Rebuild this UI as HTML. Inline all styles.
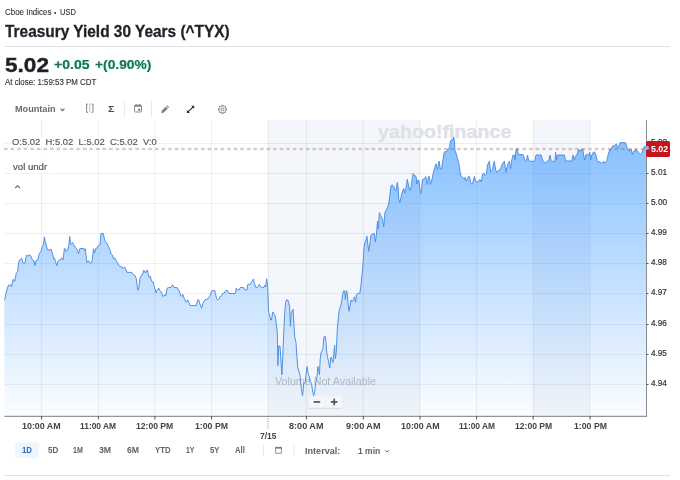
<!DOCTYPE html>
<html lang="en">
<head>
<meta charset="utf-8">
<title>Treasury Yield 30 Years (^TYX)</title>
<style>
html,body{margin:0;padding:0;background:#fff;}
body{width:680px;height:480px;position:relative;overflow:hidden;font-family:"Liberation Sans", sans-serif;}
.t{position:absolute;white-space:pre;line-height:1;margin:0;padding:0;transform-origin:0 0;z-index:3;}
.a{position:absolute;}
svg{position:absolute;left:0;top:0;}
</style>
</head>
<body>
<svg width="680" height="480" viewBox="0 0 680 480">
<rect x="4.5" y="46" width="665.5" height="1" fill="#e0e2e5"/>
<rect x="4.5" y="475" width="665.5" height="1" fill="#dfe1e4"/>
<rect x="268.1" y="120" width="151.9" height="296" fill="#f3f6fa"/>
<rect x="533.2" y="120" width="56.8" height="296" fill="#f3f6fa"/>
<rect x="41.1" y="120" width="1" height="296" fill="#202830" fill-opacity="0.075"/>
<rect x="97.8" y="120" width="1" height="296" fill="#202830" fill-opacity="0.075"/>
<rect x="154.4" y="120" width="1" height="296" fill="#202830" fill-opacity="0.075"/>
<rect x="211" y="120" width="1" height="296" fill="#202830" fill-opacity="0.075"/>
<rect x="267.6" y="120" width="1" height="296" fill="#202830" fill-opacity="0.075"/>
<rect x="305.9" y="120" width="1" height="296" fill="#202830" fill-opacity="0.075"/>
<rect x="362.8" y="120" width="1" height="296" fill="#202830" fill-opacity="0.075"/>
<rect x="419.5" y="120" width="1" height="296" fill="#202830" fill-opacity="0.075"/>
<rect x="476.1" y="120" width="1" height="296" fill="#202830" fill-opacity="0.075"/>
<rect x="532.7" y="120" width="1" height="296" fill="#202830" fill-opacity="0.075"/>
<rect x="589.5" y="120" width="1" height="296" fill="#202830" fill-opacity="0.075"/>
<rect x="5" y="143" width="641.5" height="1" fill="#202830" fill-opacity="0.075"/>
<rect x="5" y="173" width="641.5" height="1" fill="#202830" fill-opacity="0.075"/>
<rect x="5" y="203" width="641.5" height="1" fill="#202830" fill-opacity="0.075"/>
<rect x="5" y="233" width="641.5" height="1" fill="#202830" fill-opacity="0.075"/>
<rect x="5" y="263" width="641.5" height="1" fill="#202830" fill-opacity="0.075"/>
<rect x="5" y="293" width="641.5" height="1" fill="#202830" fill-opacity="0.075"/>
<rect x="5" y="324" width="641.5" height="1" fill="#202830" fill-opacity="0.075"/>
<rect x="5" y="354" width="641.5" height="1" fill="#202830" fill-opacity="0.075"/>
<rect x="5" y="384" width="641.5" height="1" fill="#202830" fill-opacity="0.075"/>
</svg>
<svg width="680" height="480" viewBox="0 0 680 480" style="z-index:2">
<defs><linearGradient id="g" x1="0" y1="120" x2="0" y2="416" gradientUnits="userSpaceOnUse"><stop offset="0" stop-color="#007aff" stop-opacity="0.503"/><stop offset="1" stop-color="#007aff" stop-opacity="0.013"/></linearGradient></defs>
<path d="M4.3,416 L4.3,300 L5,298.5 L6,293 L6.88,290 L8.5,285 L9.38,285.62 L10.25,284.75 L11.5,286.88 L13.12,279.38 L14.75,281.25 L16.25,273.12 L17.5,271.88 L19,260.62 L20.62,259.75 L21.62,258.12 L23.12,263.12 L25,263.12 L26.5,255 L27.75,256.25 L29.75,254.75 L31,256.25 L32.25,259.75 L34,261 L35,265.62 L36,260.62 L37.75,260 L39,254.38 L41,251.25 L42.5,245.62 L43.5,245 L44.38,236.88 L45.25,241.88 L46.25,245 L47.5,250 L48.5,249 L49.38,250.62 L51,249 L52.25,253.12 L54,259.38 L54.75,258.5 L55.25,261.25 L56.88,265.62 L57.75,261.25 L58.75,260.38 L60.62,259.75 L61.5,257.75 L63.12,259.75 L64.38,248.75 L65.25,248.75 L66.25,251.25 L67.5,250.62 L68.75,245.62 L69.75,236.5 L70.62,243.75 L71.5,244.38 L72.5,242.5 L73.75,244.75 L75.62,247.5 L77.25,250 L78.5,253.75 L79.75,248.75 L80,248.5 L83.75,248.5 L84.5,250.62 L85.25,248.75 L86.88,262.5 L88.5,260.62 L89.38,262.5 L91,263.12 L92.25,260 L93.5,248.75 L94.5,253.12 L95.62,248.5 L96.88,248.12 L98.5,245.25 L100,245 L101,233.75 L103.12,233.5 L104,236.88 L105,241.25 L106.5,242.5 L108.12,245.62 L109.75,249.38 L111,253.75 L112.5,255 L113.5,258.75 L114.38,257.75 L116.25,260.62 L117.5,263.12 L119.38,266 L121.88,266.88 L123.12,268.75 L124,267.5 L125,267.25 L125.62,268.75 L126.88,272.25 L131.88,272.5 L133.12,274.38 L135,275.62 L136.25,278.75 L136.5,280 L137.25,286.88 L138.12,290.25 L139,286.25 L140,278.12 L141,275.62 L142.5,275 L143.75,270 L144.75,272.25 L146.25,272.25 L147.25,269.75 L148.5,275 L149.38,277.5 L150.25,276.25 L151.5,281.25 L153.12,281.88 L154.38,286.88 L156,292.75 L156.88,290.62 L158.75,288.12 L160,290.62 L161.25,291.88 L162.75,296.25 L164,296 L164.75,294.75 L165.62,296 L167.25,288.12 L168.75,287.5 L171,287.5 L172.5,284.75 L173.75,287.25 L177.25,287.75 L179.38,291.25 L181,296.25 L181.88,296.25 L182.75,294.38 L184.38,298.75 L186.25,302.25 L187.75,299.75 L188.75,302.5 L190,305.62 L196.25,305.62 L197.75,299.75 L198.75,300 L200.25,305 L201.5,308.12 L203.12,303.12 L205,299.75 L208.12,298.75 L210,295.62 L211.88,290.62 L214.75,290.62 L215.62,293.75 L216.5,298.75 L217.5,300 L218.75,299.38 L219.75,296.88 L221.25,296.25 L222.5,293.5 L224.38,293.12 L225.62,290.62 L227.5,290.62 L229,293.5 L235.25,293.5 L236.25,288.12 L237.25,290 L239,290 L240.25,287.5 L243.5,287.5 L244.75,290 L246.88,290 L247.88,284.38 L250,284.38 L251.5,281.88 L253.5,279 L254.38,283.12 L255.62,287.25 L257.5,287.5 L259.38,284.38 L260.62,286.88 L262.5,287.5 L264,287.25 L265,285 L265.62,286.88 L266.62,278.75 L267.5,283.75 L268.1,297.5 L268.5,312.5 L269.4,313.75 L270.6,320 L271.5,320 L272.75,311.9 L274,313.75 L275.25,316.25 L276.25,323.75 L277.25,331.25 L277.9,365.6 L278.75,346 L280,346 L281,361 L281.9,374.75 L282.75,357.5 L283.75,331.25 L284.75,312.5 L285.6,302.5 L286.5,299.75 L287.75,300 L288.75,303 L289.6,306.25 L290.4,326.25 L291.25,312.5 L293.1,309.4 L293.75,321 L294.75,337.5 L296,342.5 L296.9,356.25 L297.75,367.5 L299.4,372.5 L300.25,377.5 L301.25,387.5 L302.5,396 L303.75,383.75 L305.25,381.9 L306.25,372.5 L307.1,366.5 L308.1,373.75 L309,375.6 L310.25,381.25 L311.5,383.75 L312.5,390 L313.5,395.6 L314.4,393.75 L315.6,383.75 L316.9,377.5 L317.9,366.5 L318.5,368.75 L319.4,374.75 L320.25,358.75 L321,353 L322.25,350.6 L323.1,347.5 L323.75,338 L324.4,336.25 L325.25,336.25 L326.25,345 L326.5,351 L327.5,357 L328.75,362.5 L329.75,368 L330.6,358.75 L331.25,357 L332.25,361.25 L333.1,362.5 L334,351 L334.6,345 L335.4,358.75 L336.25,352.5 L337.25,330 L338.12,320 L339.38,309.38 L340.62,306.25 L341.88,300 L343.12,292.5 L344,290.62 L344.75,291.88 L345.38,299.38 L346.25,290.62 L347.12,292.5 L348.12,303.75 L349,311.25 L350,305.62 L351,300 L352.25,301.5 L353.5,299.38 L354.38,296.88 L355.62,302.25 L356.5,294.38 L358.12,293.5 L359.75,293.12 L360.62,288.75 L361.5,280 L362.5,270 L363.12,262.5 L364,247.5 L365,242.5 L366,240 L366.88,236.25 L367.75,243.75 L368.75,251.25 L370,242.5 L371,235 L372.5,233.75 L374.4,233.75 L375.3,242 L376.4,235 L377.5,221.25 L378.38,228.75 L379.38,212.5 L380.62,215.62 L382.5,218.75 L383.75,226.88 L385,212.5 L386.88,208.75 L388.5,205 L389.75,196.25 L391,185.62 L392.25,185 L393.75,186.25 L394.75,190 L396,190.62 L397.25,182.5 L398.12,187.5 L398.75,198.75 L399.75,202.75 L401.25,196.25 L402.5,191.25 L403.75,188.5 L404.75,193.12 L406,188.75 L407.25,179.38 L408.5,185 L409.75,190.62 L411,187.5 L412.25,178.75 L413.12,173.5 L414.38,175.62 L416,176.25 L416.88,184 L418.12,179.75 L419,181.25 L420,190 L420.75,193.75 L421.5,190 L422.5,179.38 L424.38,178.75 L425.62,176.5 L426.5,180 L427.25,184.38 L428.5,176.25 L429.38,176.5 L430.38,184.38 L431.88,180 L433.12,173.75 L434.75,167.5 L436,163.75 L437.5,169.75 L439,161 L440.25,168.75 L441.5,169.75 L442.5,162.5 L443.75,155 L444.38,151.88 L446.88,151.5 L448.12,148.75 L449.38,147.5 L450.62,140.62 L451.88,139.38 L452.75,140 L453.75,136.88 L454.38,141.25 L455,150.62 L456.25,153.75 L457.25,158.12 L458.5,161.88 L459.38,166.25 L460.25,172.5 L461,176 L462.5,177.25 L463.75,178.12 L464.75,180 L465.25,177.25 L466.5,181.25 L467.5,179.38 L468.5,176.25 L469.75,176.88 L470.62,182.5 L471.88,184.38 L473.12,181.25 L474.38,176.5 L475.62,181.25 L476,181.88 L478.12,181.88 L479.75,179.38 L481.25,181.88 L482.75,173.75 L484,173.12 L485.25,175.62 L486.5,174.38 L487.5,165 L489.38,161.25 L490.62,171.88 L492.5,170 L493.5,163.75 L494.38,161.25 L495.62,170 L496.88,172.5 L498.75,170 L500.62,169.38 L501.88,165 L503.12,162.5 L504.38,161.25 L505.25,167.5 L506,172.5 L507.25,166.25 L508.5,162.5 L509.38,161.25 L510.62,168.75 L511.5,161.25 L513.12,155 L514.38,155 L515.25,160 L516,149.38 L517.5,148.75 L518.12,154.38 L523.12,154.75 L524.38,158.75 L525.25,161.25 L526.5,160.62 L527.5,155 L528.5,160 L529.75,161.25 L534.75,161.25 L536,155 L541.25,155 L542.5,160 L543.75,161.88 L545,163.12 L546.25,161.88 L547.5,161.25 L549,160 L550,155 L551,160.62 L551.88,161.25 L555,161.25 L555.62,152.25 L556.5,160 L557.5,155 L564.38,155 L565.62,161 L571.88,161 L573.12,155 L574.38,160 L575.62,156.25 L576.88,154.75 L578.5,149.38 L580,151.25 L581.25,149.38 L582.75,149 L583.75,156.25 L584.75,160 L585.62,155 L588.75,154.75 L589.75,152.25 L590.62,160 L591.88,155 L593.12,152.5 L594.38,151.88 L596,155 L597.25,160.62 L598.5,163.12 L599.38,161.25 L601.25,163.12 L602.5,163.12 L603.5,161.25 L605,163.12 L606.88,160.62 L608.12,155 L609.75,149.38 L610.62,150.62 L611.5,148.12 L612.5,146 L615,145.62 L616.25,143.75 L617.5,146.25 L618.5,148.12 L619.75,143.12 L621,142.5 L625.62,142.75 L626.88,147.5 L627.75,149.38 L629,151.25 L630,149.38 L631.25,149 L632.25,154.38 L633.5,151.25 L635,151.25 L636,149 L636.88,151.25 L638.12,151.88 L639.38,153.12 L640.62,154.38 L641.88,153.12 L643.12,149.38 L644.38,146.5 L645.62,146.25 L646.62,148.12 L646.62,416 Z" fill="url(#g)"/>
<path d="M4.3,300 L5,298.5 L6,293 L6.88,290 L8.5,285 L9.38,285.62 L10.25,284.75 L11.5,286.88 L13.12,279.38 L14.75,281.25 L16.25,273.12 L17.5,271.88 L19,260.62 L20.62,259.75 L21.62,258.12 L23.12,263.12 L25,263.12 L26.5,255 L27.75,256.25 L29.75,254.75 L31,256.25 L32.25,259.75 L34,261 L35,265.62 L36,260.62 L37.75,260 L39,254.38 L41,251.25 L42.5,245.62 L43.5,245 L44.38,236.88 L45.25,241.88 L46.25,245 L47.5,250 L48.5,249 L49.38,250.62 L51,249 L52.25,253.12 L54,259.38 L54.75,258.5 L55.25,261.25 L56.88,265.62 L57.75,261.25 L58.75,260.38 L60.62,259.75 L61.5,257.75 L63.12,259.75 L64.38,248.75 L65.25,248.75 L66.25,251.25 L67.5,250.62 L68.75,245.62 L69.75,236.5 L70.62,243.75 L71.5,244.38 L72.5,242.5 L73.75,244.75 L75.62,247.5 L77.25,250 L78.5,253.75 L79.75,248.75 L80,248.5 L83.75,248.5 L84.5,250.62 L85.25,248.75 L86.88,262.5 L88.5,260.62 L89.38,262.5 L91,263.12 L92.25,260 L93.5,248.75 L94.5,253.12 L95.62,248.5 L96.88,248.12 L98.5,245.25 L100,245 L101,233.75 L103.12,233.5 L104,236.88 L105,241.25 L106.5,242.5 L108.12,245.62 L109.75,249.38 L111,253.75 L112.5,255 L113.5,258.75 L114.38,257.75 L116.25,260.62 L117.5,263.12 L119.38,266 L121.88,266.88 L123.12,268.75 L124,267.5 L125,267.25 L125.62,268.75 L126.88,272.25 L131.88,272.5 L133.12,274.38 L135,275.62 L136.25,278.75 L136.5,280 L137.25,286.88 L138.12,290.25 L139,286.25 L140,278.12 L141,275.62 L142.5,275 L143.75,270 L144.75,272.25 L146.25,272.25 L147.25,269.75 L148.5,275 L149.38,277.5 L150.25,276.25 L151.5,281.25 L153.12,281.88 L154.38,286.88 L156,292.75 L156.88,290.62 L158.75,288.12 L160,290.62 L161.25,291.88 L162.75,296.25 L164,296 L164.75,294.75 L165.62,296 L167.25,288.12 L168.75,287.5 L171,287.5 L172.5,284.75 L173.75,287.25 L177.25,287.75 L179.38,291.25 L181,296.25 L181.88,296.25 L182.75,294.38 L184.38,298.75 L186.25,302.25 L187.75,299.75 L188.75,302.5 L190,305.62 L196.25,305.62 L197.75,299.75 L198.75,300 L200.25,305 L201.5,308.12 L203.12,303.12 L205,299.75 L208.12,298.75 L210,295.62 L211.88,290.62 L214.75,290.62 L215.62,293.75 L216.5,298.75 L217.5,300 L218.75,299.38 L219.75,296.88 L221.25,296.25 L222.5,293.5 L224.38,293.12 L225.62,290.62 L227.5,290.62 L229,293.5 L235.25,293.5 L236.25,288.12 L237.25,290 L239,290 L240.25,287.5 L243.5,287.5 L244.75,290 L246.88,290 L247.88,284.38 L250,284.38 L251.5,281.88 L253.5,279 L254.38,283.12 L255.62,287.25 L257.5,287.5 L259.38,284.38 L260.62,286.88 L262.5,287.5 L264,287.25 L265,285 L265.62,286.88 L266.62,278.75 L267.5,283.75 L268.1,297.5 L268.5,312.5 L269.4,313.75 L270.6,320 L271.5,320 L272.75,311.9 L274,313.75 L275.25,316.25 L276.25,323.75 L277.25,331.25 L277.9,365.6 L278.75,346 L280,346 L281,361 L281.9,374.75 L282.75,357.5 L283.75,331.25 L284.75,312.5 L285.6,302.5 L286.5,299.75 L287.75,300 L288.75,303 L289.6,306.25 L290.4,326.25 L291.25,312.5 L293.1,309.4 L293.75,321 L294.75,337.5 L296,342.5 L296.9,356.25 L297.75,367.5 L299.4,372.5 L300.25,377.5 L301.25,387.5 L302.5,396 L303.75,383.75 L305.25,381.9 L306.25,372.5 L307.1,366.5 L308.1,373.75 L309,375.6 L310.25,381.25 L311.5,383.75 L312.5,390 L313.5,395.6 L314.4,393.75 L315.6,383.75 L316.9,377.5 L317.9,366.5 L318.5,368.75 L319.4,374.75 L320.25,358.75 L321,353 L322.25,350.6 L323.1,347.5 L323.75,338 L324.4,336.25 L325.25,336.25 L326.25,345 L326.5,351 L327.5,357 L328.75,362.5 L329.75,368 L330.6,358.75 L331.25,357 L332.25,361.25 L333.1,362.5 L334,351 L334.6,345 L335.4,358.75 L336.25,352.5 L337.25,330 L338.12,320 L339.38,309.38 L340.62,306.25 L341.88,300 L343.12,292.5 L344,290.62 L344.75,291.88 L345.38,299.38 L346.25,290.62 L347.12,292.5 L348.12,303.75 L349,311.25 L350,305.62 L351,300 L352.25,301.5 L353.5,299.38 L354.38,296.88 L355.62,302.25 L356.5,294.38 L358.12,293.5 L359.75,293.12 L360.62,288.75 L361.5,280 L362.5,270 L363.12,262.5 L364,247.5 L365,242.5 L366,240 L366.88,236.25 L367.75,243.75 L368.75,251.25 L370,242.5 L371,235 L372.5,233.75 L374.4,233.75 L375.3,242 L376.4,235 L377.5,221.25 L378.38,228.75 L379.38,212.5 L380.62,215.62 L382.5,218.75 L383.75,226.88 L385,212.5 L386.88,208.75 L388.5,205 L389.75,196.25 L391,185.62 L392.25,185 L393.75,186.25 L394.75,190 L396,190.62 L397.25,182.5 L398.12,187.5 L398.75,198.75 L399.75,202.75 L401.25,196.25 L402.5,191.25 L403.75,188.5 L404.75,193.12 L406,188.75 L407.25,179.38 L408.5,185 L409.75,190.62 L411,187.5 L412.25,178.75 L413.12,173.5 L414.38,175.62 L416,176.25 L416.88,184 L418.12,179.75 L419,181.25 L420,190 L420.75,193.75 L421.5,190 L422.5,179.38 L424.38,178.75 L425.62,176.5 L426.5,180 L427.25,184.38 L428.5,176.25 L429.38,176.5 L430.38,184.38 L431.88,180 L433.12,173.75 L434.75,167.5 L436,163.75 L437.5,169.75 L439,161 L440.25,168.75 L441.5,169.75 L442.5,162.5 L443.75,155 L444.38,151.88 L446.88,151.5 L448.12,148.75 L449.38,147.5 L450.62,140.62 L451.88,139.38 L452.75,140 L453.75,136.88 L454.38,141.25 L455,150.62 L456.25,153.75 L457.25,158.12 L458.5,161.88 L459.38,166.25 L460.25,172.5 L461,176 L462.5,177.25 L463.75,178.12 L464.75,180 L465.25,177.25 L466.5,181.25 L467.5,179.38 L468.5,176.25 L469.75,176.88 L470.62,182.5 L471.88,184.38 L473.12,181.25 L474.38,176.5 L475.62,181.25 L476,181.88 L478.12,181.88 L479.75,179.38 L481.25,181.88 L482.75,173.75 L484,173.12 L485.25,175.62 L486.5,174.38 L487.5,165 L489.38,161.25 L490.62,171.88 L492.5,170 L493.5,163.75 L494.38,161.25 L495.62,170 L496.88,172.5 L498.75,170 L500.62,169.38 L501.88,165 L503.12,162.5 L504.38,161.25 L505.25,167.5 L506,172.5 L507.25,166.25 L508.5,162.5 L509.38,161.25 L510.62,168.75 L511.5,161.25 L513.12,155 L514.38,155 L515.25,160 L516,149.38 L517.5,148.75 L518.12,154.38 L523.12,154.75 L524.38,158.75 L525.25,161.25 L526.5,160.62 L527.5,155 L528.5,160 L529.75,161.25 L534.75,161.25 L536,155 L541.25,155 L542.5,160 L543.75,161.88 L545,163.12 L546.25,161.88 L547.5,161.25 L549,160 L550,155 L551,160.62 L551.88,161.25 L555,161.25 L555.62,152.25 L556.5,160 L557.5,155 L564.38,155 L565.62,161 L571.88,161 L573.12,155 L574.38,160 L575.62,156.25 L576.88,154.75 L578.5,149.38 L580,151.25 L581.25,149.38 L582.75,149 L583.75,156.25 L584.75,160 L585.62,155 L588.75,154.75 L589.75,152.25 L590.62,160 L591.88,155 L593.12,152.5 L594.38,151.88 L596,155 L597.25,160.62 L598.5,163.12 L599.38,161.25 L601.25,163.12 L602.5,163.12 L603.5,161.25 L605,163.12 L606.88,160.62 L608.12,155 L609.75,149.38 L610.62,150.62 L611.5,148.12 L612.5,146 L615,145.62 L616.25,143.75 L617.5,146.25 L618.5,148.12 L619.75,143.12 L621,142.5 L625.62,142.75 L626.88,147.5 L627.75,149.38 L629,151.25 L630,149.38 L631.25,149 L632.25,154.38 L633.5,151.25 L635,151.25 L636,149 L636.88,151.25 L638.12,151.88 L639.38,153.12 L640.62,154.38 L641.88,153.12 L643.12,149.38 L644.38,146.5 L645.62,146.25 L646.62,148.12" fill="none" stroke="#4f90e4" stroke-width="1" stroke-linejoin="round"/>
<rect x="10" y="137" width="148.5" height="9.6" fill="#fff" fill-opacity="0.92"/>
<rect x="10" y="150.5" width="45" height="22.9" fill="#fff" fill-opacity="0.9"/>
<line x1="3.75" y1="148.9" x2="646.5" y2="148.9" stroke="#e8564e" stroke-opacity="0.13" stroke-width="2.6" stroke-dasharray="4.2 2.363"/>
<line x1="4.25" y1="148.9" x2="646.5" y2="148.9" stroke="#6a5a5e" stroke-opacity="0.3" stroke-width="1.5" stroke-dasharray="3.2 3.363"/>
<rect x="4.4" y="415.8" width="642.6" height="1" fill="#7c7c7c"/>
<rect x="646" y="120" width="1" height="296.8" fill="#878b92"/>
<rect x="41.1" y="416" width="1" height="3.5" fill="#555"/>
<rect x="97.8" y="416" width="1" height="3.5" fill="#555"/>
<rect x="154.4" y="416" width="1" height="3.5" fill="#555"/>
<rect x="211" y="416" width="1" height="3.5" fill="#555"/>
<line x1="268.1" y1="416" x2="268.1" y2="429" stroke="#777" stroke-width="1" stroke-dasharray="1 1.5"/>
<rect x="305.9" y="416" width="1" height="3.5" fill="#555"/>
<rect x="362.8" y="416" width="1" height="3.5" fill="#555"/>
<rect x="419.5" y="416" width="1" height="3.5" fill="#555"/>
<rect x="476.1" y="416" width="1" height="3.5" fill="#555"/>
<rect x="532.7" y="416" width="1" height="3.5" fill="#555"/>
<rect x="589.5" y="416" width="1" height="3.5" fill="#555"/>
<rect x="646.5" y="143" width="2" height="1" fill="#555"/>
<rect x="646.5" y="173" width="2" height="1" fill="#555"/>
<rect x="646.5" y="203" width="2" height="1" fill="#555"/>
<rect x="646.5" y="233" width="2" height="1" fill="#555"/>
<rect x="646.5" y="263" width="2" height="1" fill="#555"/>
<rect x="646.5" y="293" width="2" height="1" fill="#555"/>
<rect x="646.5" y="324" width="2" height="1" fill="#555"/>
<rect x="646.5" y="354" width="2" height="1" fill="#555"/>
<rect x="646.5" y="384" width="2" height="1" fill="#555"/>
<rect x="308.6" y="396.6" width="33.8" height="11.4" rx="1" fill="#000" fill-opacity="0.1" transform="translate(0,0.7)"/>
<rect x="308.6" y="396.4" width="33.8" height="11.4" rx="1" fill="#f5f8fb"/>
<rect x="325.3" y="396.8" width="0.8" height="10.8" fill="#e4e7ea"/>
<rect x="313.6" y="401.1" width="6.6" height="1.7" fill="#555"/>
<rect x="330.9" y="401.1" width="6.6" height="1.7" fill="#555"/>
<rect x="333.35" y="398.65" width="1.7" height="6.6" fill="#555"/>
<path d="M60.6,108.6 L62.5,110.6 L64.4,108.6" fill="none" stroke="#5b636a" stroke-width="1.1"/>
<path d="M88.1,104.1 H86.6 V112.3 H88.1 M91.5,104.1 H93 V112.3 H91.5" fill="none" stroke="#767b82" stroke-width="0.9"/>
<line x1="89.8" y1="103.6" x2="89.8" y2="112.8" stroke="#767b82" stroke-width="0.9" stroke-dasharray="1 0.8"/>
<rect x="123.9" y="101.2" width="1" height="15.8" fill="#e6e8ea"/>
<rect x="151" y="101.2" width="1" height="15.8" fill="#e6e8ea"/>
<rect x="134.5" y="105.2" width="7" height="6.8" rx="1" fill="none" stroke="#767b82" stroke-width="0.85"/>
<rect x="134.5" y="105.2" width="7" height="1.5" fill="#767b82"/>
<rect x="135.7" y="104" width="1" height="1.6" fill="#767b82"/><rect x="139.3" y="104" width="1" height="1.6" fill="#767b82"/>
<rect x="138.2" y="108.8" width="1.9" height="1.9" rx="0.4" fill="#666a70"/>
<path d="M161.2,113.3 L161.9,110.6 L165.9,106.6 L167.9,108.6 L163.9,112.6 Z M166.5,106 L167.2,105.3 L169.2,107.3 L168.5,108 Z" fill="#7d8188"/>
<path d="M188,111.8 L193.2,106.8" stroke="#22262a" stroke-width="1.1" fill="none"/>
<path d="M186.9,112.9 V109.9 L189.9,112.9 Z M194.2,105.8 V108.8 L191.2,105.8 Z" fill="#22262a"/>
<path d="M221.78,105.26 L223.22,105.26 L223.24,106.34 L224.15,106.71 L224.92,105.96 L225.94,106.98 L225.19,107.75 L225.56,108.66 L226.64,108.68 L226.64,110.12 L225.56,110.14 L225.19,111.05 L225.94,111.82 L224.92,112.84 L224.15,112.09 L223.24,112.46 L223.22,113.54 L221.78,113.54 L221.76,112.46 L220.85,112.09 L220.08,112.84 L219.06,111.82 L219.81,111.05 L219.44,110.14 L218.36,110.12 L218.36,108.68 L219.44,108.66 L219.81,107.75 L219.06,106.98 L220.08,105.96 L220.85,106.71 L221.76,106.34 Z" fill="none" stroke="#767b82" stroke-width="0.9" stroke-linejoin="round"/>
<circle cx="222.5" cy="109.4" r="1.4" fill="none" stroke="#767b82" stroke-width="0.9"/>
<path d="M15.2,188 L17.5,185.7 L19.8,188" fill="none" stroke="#666" stroke-width="1.15"/>
<rect x="15" y="442.5" width="23.8" height="15.7" rx="2" fill="#edf5fe"/>
<rect x="263" y="444.4" width="1" height="11.4" fill="#e6e8ea"/>
<rect x="293.5" y="444.4" width="1" height="11.4" fill="#e6e8ea"/>
<rect x="275.6" y="447.6" width="5.8" height="5.7" rx="0.3" fill="none" stroke="#767b82" stroke-width="0.85"/>
<rect x="275.2" y="447.1" width="6.6" height="1.5" fill="#767b82"/>
<rect x="276.4" y="446.4" width="0.9" height="1" fill="#767b82"/><rect x="279.7" y="446.4" width="0.9" height="1" fill="#767b82"/>
<path d="M385.3,450.2 L387.2,452.1 L389.1,450.2" fill="none" stroke="#5b636a" stroke-width="1"/>
</svg>
<div class="t" id="sub" style="left:4.82px;top:9.00px;font-size:8.25px;font-weight:400;color:#30363c;transform:scaleX(0.9630);-webkit-text-stroke:0.12px #30363c;">Cboe Indices</div>
<div class="t" id="subdot" style="left:54.04px;top:10.00px;font-size:6.50px;font-weight:400;color:#30363c;transform:scaleX(1.0286);">•</div>
<div class="t" id="subusd" style="left:59.55px;top:9.00px;font-size:8.25px;font-weight:400;color:#30363c;transform:scaleX(0.9091);-webkit-text-stroke:0.12px #30363c;">USD</div>
<div class="t" id="title" style="left:4.76px;top:23.00px;font-size:16.40px;font-weight:700;color:#1d2228;transform:scaleX(0.9405);-webkit-text-stroke:0.3px #1d2228;">Treasury Yield 30 Years (^TYX)</div>
<div class="t" id="price" style="left:4.68px;top:55.00px;font-size:20.60px;font-weight:700;color:#1d2228;transform:scaleX(1.0987);-webkit-text-stroke:0.4px #1d2228;">5.02</div>
<div class="t" id="chg" style="left:54.12px;top:59.00px;font-size:12.00px;font-weight:700;color:#17705a;transform:scaleX(1.1695);-webkit-text-stroke:0.1px #17705a;text-shadow:0 0 2px rgba(110,240,205,0.55);">+0.05</div>
<div class="t" id="pct" style="left:95.02px;top:59.00px;font-size:12.00px;font-weight:700;color:#17705a;transform:scaleX(1.1500);-webkit-text-stroke:0.1px #17705a;text-shadow:0 0 2px rgba(110,240,205,0.55);">+(0.90%)</div>
<div class="t" id="close" style="left:5.20px;top:78.00px;font-size:8.30px;font-weight:400;color:#30363c;transform:scaleX(0.9514);-webkit-text-stroke:0.15px #30363c;">At close: 1:59:53 PM CDT</div>
<div class="t" id="mtn" style="left:15.08px;top:105.00px;font-size:8.80px;font-weight:700;color:#626a72;transform:scaleX(1.0368);">Mountain</div>
<div class="t" id="sigma" style="left:107.62px;top:105.00px;font-size:9.20px;font-weight:700;color:#4a4f55;transform:scaleX(1.1579);">Σ</div>
<div class="t" id="ohlc" style="left:12.02px;top:137.00px;font-size:9.75px;font-weight:400;color:#555;transform:scaleX(0.9671);-webkit-text-stroke:0.15px #555;">O:5.02  H:5.02  L:5.02  C:5.02  V:0</div>
<div class="t" id="vol" style="left:12.50px;top:162.00px;font-size:9.90px;font-weight:400;color:#555;transform:scaleX(0.9714);-webkit-text-stroke:0.2px #555;">vol undr</div>
<div class="t" id="wm" style="left:377.83px;top:123.00px;font-size:18.20px;font-weight:700;color:#dee1e6;transform:scaleX(1.0816);z-index:1;-webkit-text-stroke:0.5px #dee1e6;">yahoo!finance</div>
<div class="t" id="vna" style="left:275.00px;top:377.00px;font-size:10.30px;font-weight:400;color:rgba(125,135,145,0.52);transform:scaleX(1.0398);">Volume Not Available</div>
<div class="t" id="y0" style="left:650.81px;top:138.00px;font-size:8.40px;font-weight:400;color:#333;transform:scaleX(0.9871);z-index:3;-webkit-text-stroke:0.2px #333;">5.02</div>
<div class="t" id="y1" style="left:650.81px;top:168.00px;font-size:8.40px;font-weight:400;color:#333;transform:scaleX(0.9871);z-index:3;-webkit-text-stroke:0.2px #333;">5.01</div>
<div class="t" id="y2" style="left:650.81px;top:198.00px;font-size:8.40px;font-weight:400;color:#333;transform:scaleX(0.9871);z-index:3;-webkit-text-stroke:0.2px #333;">5.00</div>
<div class="t" id="y3" style="left:651.06px;top:228.00px;font-size:8.40px;font-weight:400;color:#333;transform:scaleX(0.9714);z-index:3;-webkit-text-stroke:0.2px #333;">4.99</div>
<div class="t" id="y4" style="left:651.06px;top:258.00px;font-size:8.40px;font-weight:400;color:#333;transform:scaleX(0.9714);z-index:3;-webkit-text-stroke:0.2px #333;">4.98</div>
<div class="t" id="y5" style="left:651.06px;top:288.00px;font-size:8.40px;font-weight:400;color:#333;transform:scaleX(0.9714);z-index:3;-webkit-text-stroke:0.2px #333;">4.97</div>
<div class="t" id="y6" style="left:651.06px;top:319.00px;font-size:8.40px;font-weight:400;color:#333;transform:scaleX(0.9714);z-index:3;-webkit-text-stroke:0.2px #333;">4.96</div>
<div class="t" id="y7" style="left:651.06px;top:349.00px;font-size:8.40px;font-weight:400;color:#333;transform:scaleX(0.9714);z-index:3;-webkit-text-stroke:0.2px #333;">4.95</div>
<div class="t" id="y8" style="left:651.06px;top:379.00px;font-size:8.40px;font-weight:400;color:#333;transform:scaleX(0.9714);z-index:3;-webkit-text-stroke:0.2px #333;">4.94</div>
<div class="t" id="cur" style="left:650.66px;top:145.00px;font-size:9.20px;font-weight:700;color:#fff;transform:scaleX(0.9565);z-index:6;">5.02</div>
<div class="t" id="x0" style="left:22.25px;top:422.00px;font-size:9.30px;font-weight:700;color:#3f4448;transform:scaleX(0.9557);">10:00 AM</div>
<div class="t" id="x1" style="left:80.35px;top:422.00px;font-size:9.30px;font-weight:700;color:#3f4448;transform:scaleX(0.9032);">11:00 AM</div>
<div class="t" id="x2" style="left:136.34px;top:422.00px;font-size:9.30px;font-weight:700;color:#3f4448;transform:scaleX(0.9223);">12:00 PM</div>
<div class="t" id="x3" style="left:195.08px;top:422.00px;font-size:9.30px;font-weight:700;color:#3f4448;transform:scaleX(0.9382);">1:00 PM</div>
<div class="t" id="x5" style="left:289.31px;top:422.00px;font-size:9.30px;font-weight:700;color:#3f4448;transform:scaleX(0.9768);">8:00 AM</div>
<div class="t" id="x6" style="left:346.21px;top:422.00px;font-size:9.30px;font-weight:700;color:#3f4448;transform:scaleX(0.9768);">9:00 AM</div>
<div class="t" id="x7" style="left:400.65px;top:422.00px;font-size:9.30px;font-weight:700;color:#3f4448;transform:scaleX(0.9557);">10:00 AM</div>
<div class="t" id="x8" style="left:458.65px;top:422.00px;font-size:9.30px;font-weight:700;color:#3f4448;transform:scaleX(0.9032);">11:00 AM</div>
<div class="t" id="x9" style="left:514.64px;top:422.00px;font-size:9.30px;font-weight:700;color:#3f4448;transform:scaleX(0.9223);">12:00 PM</div>
<div class="t" id="x10" style="left:573.58px;top:422.00px;font-size:9.30px;font-weight:700;color:#3f4448;transform:scaleX(0.9382);">1:00 PM</div>
<div class="t" id="d715" style="left:260.37px;top:432.00px;font-size:9.30px;font-weight:700;color:#3f4448;transform:scaleX(0.9086);">7/15</div>
<div class="t" id="r1D" style="left:22.43px;top:446.00px;font-size:8.30px;font-weight:700;color:#2f66b8;transform:scaleX(0.9436);">1D</div>
<div class="t" id="r5D" style="left:47.86px;top:446.00px;font-size:8.30px;font-weight:700;color:#5b636a;transform:scaleX(0.9650);">5D</div>
<div class="t" id="r1M" style="left:73.32px;top:446.00px;font-size:8.30px;font-weight:700;color:#5b636a;transform:scaleX(0.8571);">1M</div>
<div class="t" id="r3M" style="left:99.49px;top:446.00px;font-size:8.30px;font-weight:700;color:#5b636a;transform:scaleX(1.0465);">3M</div>
<div class="t" id="r6M" style="left:126.99px;top:446.00px;font-size:8.30px;font-weight:700;color:#5b636a;transform:scaleX(1.0465);">6M</div>
<div class="t" id="rYTD" style="left:154.52px;top:446.00px;font-size:8.30px;font-weight:700;color:#5b636a;transform:scaleX(0.9375);">YTD</div>
<div class="t" id="r1Y" style="left:185.58px;top:446.00px;font-size:8.30px;font-weight:700;color:#5b636a;transform:scaleX(0.8316);">1Y</div>
<div class="t" id="r5Y" style="left:209.52px;top:446.00px;font-size:8.30px;font-weight:700;color:#5b636a;transform:scaleX(0.9231);">5Y</div>
<div class="t" id="rAll" style="left:234.97px;top:446.00px;font-size:8.30px;font-weight:700;color:#5b636a;transform:scaleX(0.9231);">All</div>
<div class="t" id="intv" style="left:305.39px;top:447.00px;font-size:9.00px;font-weight:700;color:#5b636a;transform:scaleX(1.0104);">Interval:</div>
<div class="t" id="min" style="left:358.03px;top:447.00px;font-size:9.00px;font-weight:700;color:#5b636a;transform:scaleX(0.9444);">1 min</div>
<div class="a" style="left:645.7px;top:140.7px;width:24.3px;height:16.1px;border-radius:1.6px;background:#c4161c;z-index:4;"></div>
<div class="a" style="left:645.2px;top:146.4px;width:3.6px;height:3.6px;border-radius:50%;background:#82b6f5;z-index:5;"></div>
</body>
</html>
